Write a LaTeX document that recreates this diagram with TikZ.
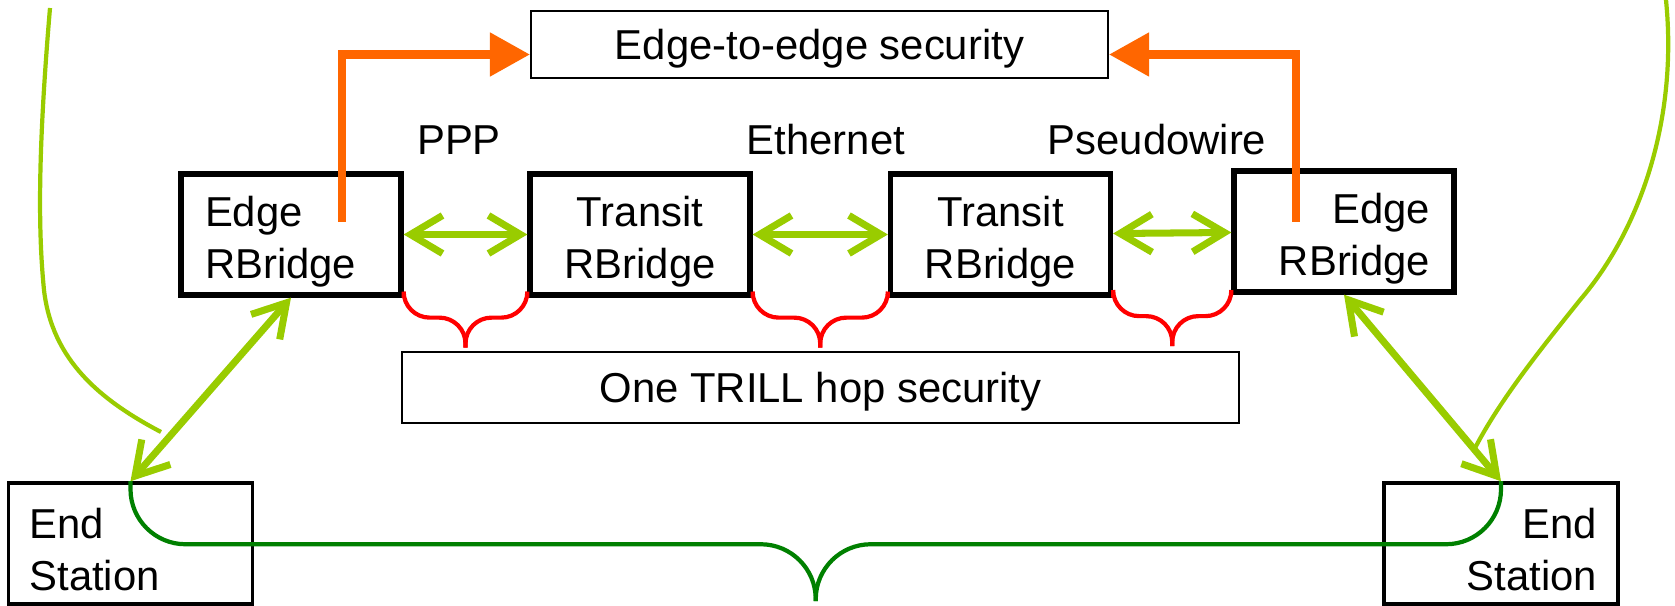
\documentclass[tikz,border=0pt]{standalone}
\usepackage{fontspec}
\setmainfont{Liberation Sans}
\usepackage{tikz}
\usetikzlibrary{arrows.meta,positioning,calc}
\definecolor{linkgreen}{HTML}{99CC00}
\definecolor{secorange}{HTML}{FF6600}
\definecolor{hopred}{HTML}{FF0000}
\definecolor{pathgreen}{HTML}{008000}

\begin{document}
\begin{tikzpicture}[
  x=0.1mm, y=-0.1mm,
  font=\fontsize{11.9}{14.8}\selectfont,
  rb/.style={draw, line width=1.5pt, text width=17.2mm, inner xsep=2.4mm, inner ysep=0pt, minimum height=12.1mm, text height=4.4mm, align=#1},
  rb/.default=center,
  station/.style={draw, line width=1pt, inner xsep=2.1mm, inner ysep=0pt, minimum height=12.1mm, text height=4.2mm, align=#1},
  secbox/.style={draw, line width=0.6pt, inner sep=0pt, text depth=0pt},
  link/.style={draw=linkgreen, line width=2pt, {Straight Barb[length=3.2mm,width=3.8mm]}-{Straight Barb[length=3.2mm,width=3.8mm]}},
  upsec/.style={draw=secorange, line width=2.3pt, -{Triangle[length=4mm,width=4.2mm]}},
  hopbrace/.style={draw=hopred, line width=1.2pt, rounded corners=2.6mm},
  e2ebrace/.style={draw=pathgreen, line width=1.2pt, rounded corners=5.5mm},
  endtoend/.style={draw=linkgreen, line width=1.2pt}]
\useasboundingbox (0,0) rectangle (1675,606);
% rbridges
\node[rb=left] (eb1) at (291,234.5) {Edge\\RBridge};
\node[rb] (tb1) at (640,234.5) {Transit\\RBridge};
\node[rb] (tb2) at (1000.5,234.5) {Transit\\RBridge};
\node[rb=right] (eb2) at (1344,231.5) {Edge\\RBridge};
\node[anchor=base] (ppp) at (459,155) {PPP};
\node[anchor=base] (eth) at (826,155) {Ethernet};
\node[anchor=base] (pw) at (1157,155) {Pseudowire};
% end stations
\node[station=left, text width=20.2mm] (es1) at (130.5,543.5) {End\\Station};
\node[station=right, text width=19.2mm] (es2) at (1501,543.5) {End\\Station};
% security boxes
\node[secbox, minimum width=57.7mm, minimum height=6.7mm] (e2e) at (819.5,44.5) {Edge-to-edge security};
\node[secbox, minimum width=83.7mm, minimum height=7.1mm] (hop) at (820.5,387.5) {One TRILL hop security};
% braces
\coordinate (h1) at ($(eb1.south east)!.5!(tb1.south west)+(0,50)$);
\coordinate (h2) at ($(tb1.south east)!.5!(tb2.south west)+(0,50)$);
\coordinate (h3) at ($(tb2.south east)!.5!(eb2.south west)+(0,50)$);
\draw[hopbrace] (eb1.south east) |- ([yshift=3mm]h1) -- (h1); \draw[hopbrace] (tb1.south west) |- ([yshift=3mm]h1) -- (h1);
\draw[hopbrace] (tb1.south east) |- ([yshift=3mm]h2) -- (h2); \draw[hopbrace] (tb2.south west) |- ([yshift=3mm]h2) -- (h2);
\draw[hopbrace] (tb2.south east) |- ([yshift=3mm]h3) -- (h3); \draw[hopbrace] (eb2.south west) |- ([yshift=3mm]h3) -- (h3);
\coordinate (tip) at ($(es1.north)!.5!(es2.north)+(0,120)$);
\draw[e2ebrace] (es1.north) |- ([yshift=5.7mm]tip) -- (tip);
\draw[e2ebrace] (es2.north) |- ([yshift=5.7mm]tip) -- (tip);
% links
\draw[link] (eb1) -- (tb1); \draw[link] (tb1) -- (tb2); \draw[link] (tb2) -- (eb2);
\draw[link] (es1.north) -- (eb1.south); \draw[link] (es2.north) -- (eb2.south);
% end to end curves
\draw[endtoend] (50,8) .. controls (38,150) and (38,230) .. (44,290) .. controls (52,360) and (100,400) .. (161,432);
\draw[endtoend] (1666,0) .. controls (1678,120) and (1640,230) .. (1580,300) .. controls (1540,350) and (1500,400) .. (1475,448);
% edge to edge arrows
\coordinate (o1) at (342,222);
\coordinate (o2) at (1296,222);
\draw[upsec] (o1) |- ([yshift=-1mm]e2e.west);
\draw[upsec] (o2) |- ([yshift=-1mm]e2e.east);
\end{tikzpicture}
\end{document}
